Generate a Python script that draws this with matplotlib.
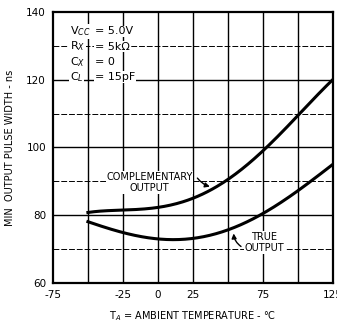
import matplotlib
matplotlib.use("Agg")
import matplotlib.pyplot as plt
import numpy as np

plt.rcParams['font.family'] = ['DejaVu Sans']

temp = [-50, -25, 0, 25, 50, 75, 100, 125]
complementary = [80.9, 81.1, 82.6, 85.3, 90.0, 99.1, 109.6, 120.0]
true_out = [78.1, 74.7, 73.2, 73.0, 75.7, 80.4, 87.3, 95.0]
xticks = [-75, -25, 0, 25, 75, 125]
yticks = [60, 80, 100, 120, 140]

fig = plt.figure(figsize=(3.37, 3.24), dpi=100)
ax = fig.add_axes([0.157, 0.127, 0.831, 0.836])

def smooth(x, y):
    xs = np.linspace(min(x), max(x), 200)
    c = np.polyfit(x, y, 4)
    return xs, np.polyval(c, xs)

ax.set_xlim(-75, 125)
ax.set_ylim(60, 140)
for v in range(-50, 125, 25):
    ax.axvline(v, color='black', lw=1.0, zorder=1)
for v in [80, 100, 120]:
    ax.axhline(v, color='black', lw=1.0, zorder=1)
for v in [70, 90, 110, 130]:
    ax.axhline(v, color='black', lw=0.7, ls=(0, (6, 2)), zorder=1)

xs, ys = smooth(temp, complementary)
ax.plot(xs, ys, color='black', lw=2.2, zorder=3)
xs, ys = smooth(temp, true_out)
ax.plot(xs, ys, color='black', lw=2.2, zorder=3)

ax.set_xticks(xticks)
ax.set_xticklabels([str(t) for t in xticks])
ax.set_yticks(yticks)
ax.tick_params(length=0, labelsize=7.5, pad=5)
for s in ax.spines.values():
    s.set_linewidth(1.6)

ax.set_ylabel('MIN  OUTPUT PULSE WIDTH - ns', fontsize=7, labelpad=8)
ax.set_xlabel('T$_A$ = AMBIENT TEMPERATURE - °C', fontsize=7, labelpad=7)

cond = [('V$_{CC}$', '= 5.0V'), ('R$_X$', '= 5kΩ'), ('C$_X$', '= 0'), ('C$_L$', '= 15pF')]
for i, (a, b) in enumerate(cond):
    y = 134.3 - i * 4.5
    ax.text(-63, y, a, fontsize=8, va='center', ha='left', zorder=4,
            bbox=dict(facecolor='white', edgecolor='none', pad=0.5))
    ax.text(-45, y, b, fontsize=8, va='center', ha='left', zorder=4,
            bbox=dict(facecolor='white', edgecolor='none', pad=0.5))

ax.text(-6, 89.6, 'COMPLEMENTARY\nOUTPUT', fontsize=7, ha='center', va='center',
        linespacing=1.2, zorder=4, bbox=dict(facecolor='white', edgecolor='none', pad=0.3))
ax.annotate('', xy=(39, 88.2), xytext=(27, 91.6),
            arrowprops=dict(arrowstyle='-|>', color='black', lw=1.0, mutation_scale=7,
                            connectionstyle='arc3,rad=0.2'), zorder=4)
ax.text(76, 71.9, 'TRUE\nOUTPUT', fontsize=7, ha='center', va='center',
        linespacing=1.2, zorder=4, bbox=dict(facecolor='white', edgecolor='none', pad=0.3))
ax.annotate('', xy=(54, 75.4), xytext=(61, 70.3),
            arrowprops=dict(arrowstyle='-|>', color='black', lw=1.0, mutation_scale=7,
                            connectionstyle='arc3,rad=-0.3'), zorder=4)

fig.savefig('out.png', dpi=100)
